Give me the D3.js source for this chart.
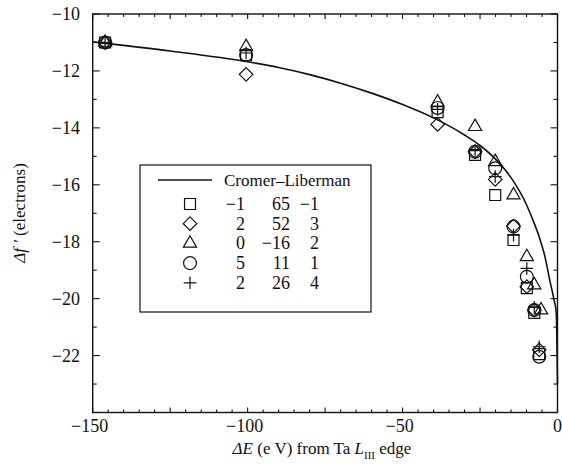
<!DOCTYPE html>
<html>
<head>
<meta charset="utf-8">
<script src="https://cdn.jsdelivr.net/npm/d3@7"></script>
<style>
  body { margin: 0; background: #fff; }
  svg text { font-family: "Liberation Serif", "Times New Roman", serif; fill: #111; }
</style>
</head>
<body>
<svg id="chart"></svg>
<script>
// Cromer-Liberman curve
var curveE = [-150, -125, -100, -90, -80, -70, -60, -50, -40, -30, -25, -20, -15, -10, -8, -6, -4, -2.5, -1.2, -0.4, 0];
var curveF = [-10.98, -11.3, -11.68, -11.88, -12.13, -12.43, -12.78, -13.18, -13.65, -14.25, -14.62, -15.1, -15.75, -16.7, -17.22, -17.8, -18.55, -19.35, -20.0, -20.5, -23.0];

// measured series (energy in eV, f' in electrons)
var squareE = [-146, -100.5, -38.7, -26.6, -20.1, -14.2, -9.9, -7.5, -5.9];
var squareF = [-11.0, -11.45, -13.45, -14.95, -16.36, -17.94, -19.63, -20.5, -21.95];
var diamondE = [-146, -100.5, -38.7, -26.6, -20.1, -14.2, -9.9, -7.5, -5.9];
var diamondF = [-11.0, -12.12, -13.88, -14.84, -15.81, -17.45, -19.58, -20.4, -21.8];
var triangleE = [-146, -100.5, -38.7, -26.6, -20.1, -14.2, -9.9, -7.5, -5.3];
var triangleF = [-11.0, -11.15, -13.1, -13.96, -15.19, -16.36, -18.53, -19.52, -20.4];
var circleE = [-146, -100.5, -38.7, -26.6, -20.1, -14.2, -9.9, -7.5, -5.9];
var circleF = [-11.0, -11.44, -13.3, -14.84, -15.42, -17.47, -19.23, -20.4, -22.04];
var plusE = [-146, -100.5, -38.7, -26.6, -20.1, -14.2, -9.9, -7.5, -5.9];
var plusF = [-11.0, -11.37, -13.35, -14.8, -15.71, -17.77, -18.94, -20.3, -21.69];

// legend table
var legendCols = [["\u22121", "65", "\u22121"], ["2", "52", "3"], ["0", "\u221216", "2"], ["5", "11", "1"], ["2", "26", "4"]];

var xTicks = [-150, -100, -50, 0];
var yTicks = [-22, -20, -18, -16, -14, -12, -10];

var width = 562, height = 464;
var svg = d3.select("#chart").attr("width", width).attr("height", height)
    .attr("font-family", "Liberation Serif, serif");

var x = d3.scaleLinear().domain([-150, 0]).range([92.7, 557.5]);
var y = d3.scaleLinear().domain([-24, -10]).range([412.5, 14]);

var fmt = function (d) { return d < 0 ? "\u2212" + Math.abs(d) : "" + d; };

// frame
svg.append("rect")
    .attr("x", x(-150)).attr("y", y(-10))
    .attr("width", x(0) - x(-150)).attr("height", y(-24) - y(-10))
    .attr("fill", "none").attr("stroke", "#111").attr("stroke-width", 1.4);

// ticks, inward on all four sides
var g = svg.append("g").attr("stroke", "#111").attr("stroke-width", 1.1);
d3.range(-150, 0.1, 5).forEach(function (v) {
    var len = (v % 25 === 0) ? 5 : 3;
    g.append("line").attr("x1", x(v)).attr("x2", x(v)).attr("y1", y(-24)).attr("y2", y(-24) - len);
    g.append("line").attr("x1", x(v)).attr("x2", x(v)).attr("y1", y(-10)).attr("y2", y(-10) + len);
});
d3.range(-24, -9.9, 1).forEach(function (v) {
    var len = (v % 2 === 0) ? 7 : 4;
    g.append("line").attr("y1", y(v)).attr("y2", y(v)).attr("x1", x(-150)).attr("x2", x(-150) + len);
    g.append("line").attr("y1", y(v)).attr("y2", y(v)).attr("x1", x(0)).attr("x2", x(0) - len);
});

svg.selectAll(".xlab").data(xTicks).enter().append("text")
    .attr("x", d => x(d) - (d < 0 ? 3 : 0)).attr("y", 432)
    .attr("text-anchor", "middle").attr("font-size", 18)
    .text(fmt);
svg.selectAll(".ylab").data(yTicks).enter().append("text")
    .attr("x", 80).attr("y", d => y(d) + 6)
    .attr("text-anchor", "end").attr("font-size", 18)
    .text(fmt);

// axis titles
var xt = svg.append("text").attr("x", 322).attr("y", 454)
    .attr("text-anchor", "middle").attr("font-size", 17);
xt.append("tspan").attr("font-style", "italic").text("\u0394E");
xt.append("tspan").text(" (e V) from Ta ");
xt.append("tspan").attr("font-style", "italic").text("L");
xt.append("tspan").attr("font-size", 11).attr("dy", 5).text("III");
xt.append("tspan").attr("dy", -5).text(" edge");

var yt = svg.append("text").attr("transform", "translate(25,213) rotate(-90)")
    .attr("text-anchor", "middle").attr("font-size", 17);
yt.append("tspan").attr("font-style", "italic").text("\u0394f \u2032");
yt.append("tspan").text(" (electrons)");

// curve
var line = d3.line().x(d => x(d[0])).y(d => y(d[1])).curve(d3.curveMonotoneX);
svg.append("path")
    .datum(curveE.map((e, i) => [e, curveF[i]]))
    .attr("d", line)
    .attr("fill", "none").attr("stroke", "#111").attr("stroke-width", 1.6);

// symbols
var diamondType = { draw: function (ctx, size) { var r = Math.sqrt(size) / 2 * 1.35; ctx.moveTo(0, -r); ctx.lineTo(r, 0); ctx.lineTo(0, r); ctx.lineTo(-r, 0); ctx.closePath(); } };
var plusType = { draw: function (ctx, size) { var r = Math.sqrt(size) / 2 * 1.15; ctx.moveTo(-r, 0); ctx.lineTo(r, 0); ctx.moveTo(0, -r); ctx.lineTo(0, r); } };
var series = [
    { e: squareE, f: squareF, type: d3.symbolSquare, size: 120 },
    { e: diamondE, f: diamondF, type: diamondType, size: 100 },
    { e: triangleE, f: triangleF, type: d3.symbolTriangle, size: 75 },
    { e: circleE, f: circleF, type: d3.symbolCircle, size: 130 },
    { e: plusE, f: plusF, type: plusType, size: 120 }
];

series.forEach(function (s) {
    var sym = d3.symbol().type(s.type).size(s.size);
    svg.append("g").selectAll("path")
        .data(s.e.map((e, i) => [e, s.f[i]]))
        .enter().append("path")
        .attr("transform", d => "translate(" + x(d[0]) + "," + y(d[1]) + ")")
        .attr("d", sym)
        .attr("fill", "none").attr("stroke", "#111").attr("stroke-width", 1.2);
});

// legend
var lg = svg.append("g");
lg.append("rect").attr("x", 140).attr("y", 165).attr("width", 231).attr("height", 147)
    .attr("fill", "#fff").attr("stroke", "#111").attr("stroke-width", 1.2);
lg.append("line").attr("x1", 158).attr("x2", 212).attr("y1", 180).attr("y2", 180)
    .attr("stroke", "#111").attr("stroke-width", 1.4);
lg.append("text").attr("x", 224).attr("y", 186).attr("font-size", 17).text("Cromer\u2013Liberman");

var colRight = [245, 290, 319];
series.forEach(function (s, i) {
    var ry = 204 + i * 19.7;
    lg.append("path")
        .attr("transform", "translate(190," + ry + ")")
        .attr("d", d3.symbol().type(s.type).size(s.size))
        .attr("fill", "none").attr("stroke", "#111").attr("stroke-width", 1.2);
    legendCols[i].forEach(function (t, j) {
        lg.append("text").attr("x", colRight[j]).attr("y", ry + 6)
            .attr("text-anchor", "end").attr("font-size", 18).text(t);
    });
});
</script>
</body>
</html>
